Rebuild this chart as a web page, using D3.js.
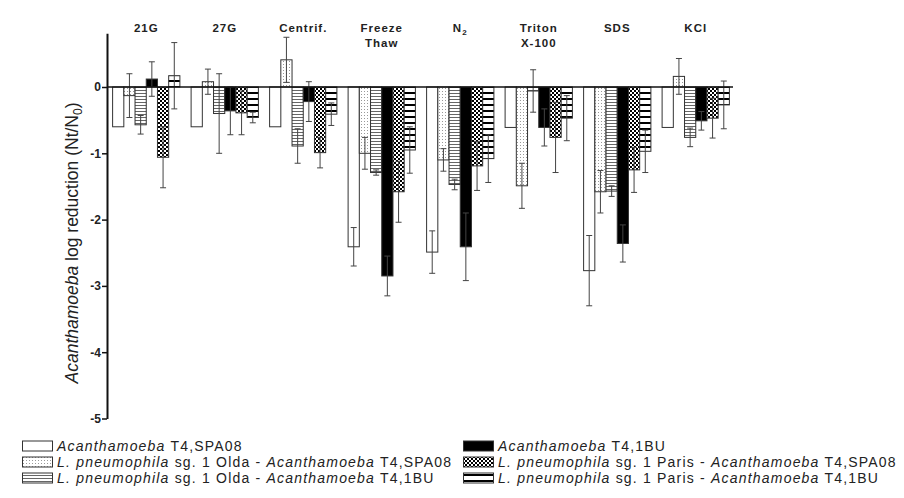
<!DOCTYPE html>
<html>
<head>
<meta charset="utf-8">
<script src="https://cdn.jsdelivr.net/npm/d3@7"></script>
<style>
  body { margin: 0; background: #fff; }
  svg { display: block; font-family: "Liberation Sans", Arial, sans-serif; }
</style>
</head>
<body>
<svg id="chart" width="904" height="498"></svg>
<script>
// treatments (x groups), label lines
const groups = ["21G", "27G", "Centrif.", "Freeze Thaw", "N2", "Triton X-100", "SDS", "KCl"];
const groupLines = [["21G"], ["27G"], ["Centrif."], ["Freeze", "Thaw"], ["N2"], ["Triton", "X-100"], ["SDS"], ["KCl"]];

const seriesNames = ["s1", "s2", "s3", "s4", "s5", "s6"];

// mean log reduction, one array per series (order = groups)
const s1Mean = [-0.60, -0.60, -0.60, -2.41, -2.49, -0.61, -2.77, -0.61];
const s2Mean = [-0.13, 0.08, 0.41, -1.00, -1.10, -1.49, -1.58, 0.16];
const s3Mean = [-0.57, -0.40, -0.89, -1.29, -1.47, -0.06, -1.57, -0.76];
const s4Mean = [0.12, -0.36, -0.22, -2.85, -2.41, -0.61, -2.36, -0.51];
const s5Mean = [-1.06, -0.39, -0.99, -1.58, -1.19, -0.76, -1.25, -0.47];
const s6Mean = [0.17, -0.46, -0.41, -0.95, -1.08, -0.47, -0.97, -0.27];

// error bar half widths
const s1Err = [0, 0, 0, 0.29, 0.32, 0, 0.53, 0];
const s2Err = [0.33, 0.19, 0.34, 0.24, 0.17, 0.34, 0.32, 0.27];
const s3Err = [0.14, 0.60, 0.26, 0.04, 0.08, 0.32, 0.08, 0.14];
const s4Err = [0.26, 0.36, 0.30, 0.30, 0.51, 0.28, 0.28, 0.14];
const s5Err = [0.46, 0.33, 0.23, 0.46, 0.37, 0.53, 0.34, 0.30];
const s6Err = [0.50, 0.08, 0.17, 0.35, 0.36, 0.34, 0.32, 0.36];

const yTicks = [0, -1, -2, -3, -4, -5];

// legend: [text, italic?] pieces
const legendItems = [
  [["Acanthamoeba", true], [" T4,SPA08", false]],
  [["L. pneumophila", true], [" sg. 1 Olda - ", false], ["Acanthamoeba", true], [" T4,SPA08", false]],
  [["L. pneumophila", true], [" sg. 1 Olda - ", false], ["Acanthamoeba", true], [" T4,1BU", false]],
  [["Acanthamoeba", true], [" T4,1BU", false]],
  [["L. pneumophila", true], [" sg. 1 Paris - ", false], ["Acanthamoeba", true], [" T4,SPA08", false]],
  [["L. pneumophila", true], [" sg. 1 Paris - ", false], ["Acanthamoeba", true], [" T4,1BU", false]]
];

const means = [s1Mean, s2Mean, s3Mean, s4Mean, s5Mean, s6Mean];
const errs = [s1Err, s2Err, s3Err, s4Err, s5Err, s6Err];
const fills = ["#fff", "url(#dots)", "url(#hlines)", "#000", "url(#checker)", "url(#thick)"];

const data = [];
groups.forEach((g, gi) => {
  seriesNames.forEach((s, si) => {
    data.push({group: g, series: s, si: si, value: means[si][gi], err: errs[si][gi]});
  });
});

const svg = d3.select("#chart");

// patterns
const defs = svg.append("defs");
let p = defs.append("pattern").attr("id", "dots").attr("patternUnits", "userSpaceOnUse").attr("width", 3).attr("height", 3);
p.append("rect").attr("width", 3).attr("height", 3).attr("fill", "#fff");
p.append("rect").attr("x", 1).attr("y", 1).attr("width", 1).attr("height", 1).attr("fill", "#999");

p = defs.append("pattern").attr("id", "hlines").attr("patternUnits", "userSpaceOnUse").attr("width", 4).attr("height", 3);
p.append("rect").attr("width", 4).attr("height", 3).attr("fill", "#fff");
p.append("rect").attr("y", 0).attr("width", 4).attr("height", 1).attr("fill", "#666");

p = defs.append("pattern").attr("id", "checker").attr("patternUnits", "userSpaceOnUse").attr("width", 4).attr("height", 4);
p.append("rect").attr("width", 4).attr("height", 4).attr("fill", "#fff");
p.append("rect").attr("x", 0).attr("y", 0).attr("width", 2).attr("height", 2).attr("fill", "#000");
p.append("rect").attr("x", 2).attr("y", 2).attr("width", 2).attr("height", 2).attr("fill", "#000");

p = defs.append("pattern").attr("id", "thick").attr("patternUnits", "userSpaceOnUse").attr("width", 4).attr("height", 6);
p.append("rect").attr("width", 4).attr("height", 6).attr("fill", "#fff");
p.append("rect").attr("y", 2).attr("width", 4).attr("height", 2).attr("fill", "#000");

// scales
const x0 = d3.scaleBand().domain(groups).range([107, 735]).paddingInner(1 / 7).paddingOuter(0.5 / 7);
const x1 = d3.scaleBand().domain(seriesNames).range([0, x0.bandwidth()]);
const y = d3.scaleLinear().domain([-5, 0.81]).range([418.5, 33.3]);

// bars
svg.append("g").selectAll("rect")
  .data(data)
  .join("rect")
  .attr("x", d => x0(d.group) + x1(d.series))
  .attr("y", d => y(Math.max(0, d.value)))
  .attr("width", x1.bandwidth())
  .attr("height", d => Math.abs(y(d.value) - y(0)))
  .attr("fill", d => fills[d.si])
  .attr("stroke", "#333")
  .attr("stroke-width", 1);

// error bars
const eb = svg.append("g").attr("stroke", "#444").attr("stroke-width", 1);
data.filter(d => d.err > 0).forEach(d => {
  const cx = x0(d.group) + x1(d.series) + x1.bandwidth() / 2;
  const yt = y(d.value + d.err), yb = y(d.value - d.err);
  eb.append("line").attr("x1", cx).attr("x2", cx).attr("y1", yt).attr("y2", yb);
  eb.append("line").attr("x1", cx - 3).attr("x2", cx + 3).attr("y1", yt).attr("y2", yt);
  eb.append("line").attr("x1", cx - 3).attr("x2", cx + 3).attr("y1", yb).attr("y2", yb);
});

// zero line
svg.append("line")
  .attr("x1", 107).attr("x2", 733)
  .attr("y1", y(0)).attr("y2", y(0))
  .attr("stroke", "#111").attr("stroke-width", 1.5);

// y axis
const yAxis = svg.append("g")
  .attr("transform", "translate(107,0)")
  .call(d3.axisLeft(y).tickValues(yTicks).tickSize(5).tickSizeOuter(0).tickFormat(d3.format("d")));
yAxis.select(".domain").attr("stroke", "#111").attr("stroke-width", 2);
yAxis.selectAll(".tick line").attr("stroke", "#111").attr("stroke-width", 1.5);
yAxis.selectAll(".tick text")
  .attr("font-size", 12).attr("font-weight", "bold").attr("fill", "#222")
  .attr("font-family", "Liberation Sans, Arial, sans-serif")
  .attr("x", -6)
  .text(d => d === 0 ? "0" : "-" + Math.abs(d));

// y label
const yl = svg.append("text")
  .attr("transform", "translate(78,243) rotate(-90)")
  .attr("text-anchor", "middle")
  .attr("font-size", 17.5)
  .attr("fill", "#222");
yl.append("tspan").attr("font-style", "italic").text("Acanthamoeba");
yl.append("tspan").text(" log reduction (Nt/N");
yl.append("tspan").attr("font-size", 12).attr("dy", 4).text("0");
yl.append("tspan").attr("dy", -4).text(")");

// group labels
groups.forEach((g, gi) => {
  const cx = x0(g) + x0.bandwidth() / 2;
  groupLines[gi].forEach((line, li) => {
    const t = svg.append("text")
      .attr("x", cx).attr("y", 32 + li * 15)
      .attr("text-anchor", "middle")
      .attr("font-size", 11.5).attr("font-weight", "bold")
      .attr("letter-spacing", 1).attr("fill", "#222");
    if (line === "N2") {
      t.append("tspan").text("N");
      t.append("tspan").attr("font-size", 8).attr("dy", 3).text("2");
    } else {
      t.text(line);
    }
  });
});

// legend
const legX = [22, 463];
const legY = [446, 462, 478];
legendItems.forEach((item, i) => {
  const col = Math.floor(i / 3), row = i % 3;
  const g = svg.append("g").attr("transform", `translate(${legX[col]},${legY[row]})`);
  g.append("rect").attr("x", 0.5).attr("y", -5).attr("width", 30).attr("height", 10)
    .attr("fill", fills[i]).attr("stroke", "#333").attr("stroke-width", 1);
  const t = g.append("text").attr("x", 35).attr("y", 5)
    .attr("font-size", 14).attr("letter-spacing", 1.2).attr("fill", "#222");
  item.forEach(([s, it]) => {
    t.append("tspan").attr("font-style", it ? "italic" : "normal").text(s);
  });
});
</script>
</body>
</html>
